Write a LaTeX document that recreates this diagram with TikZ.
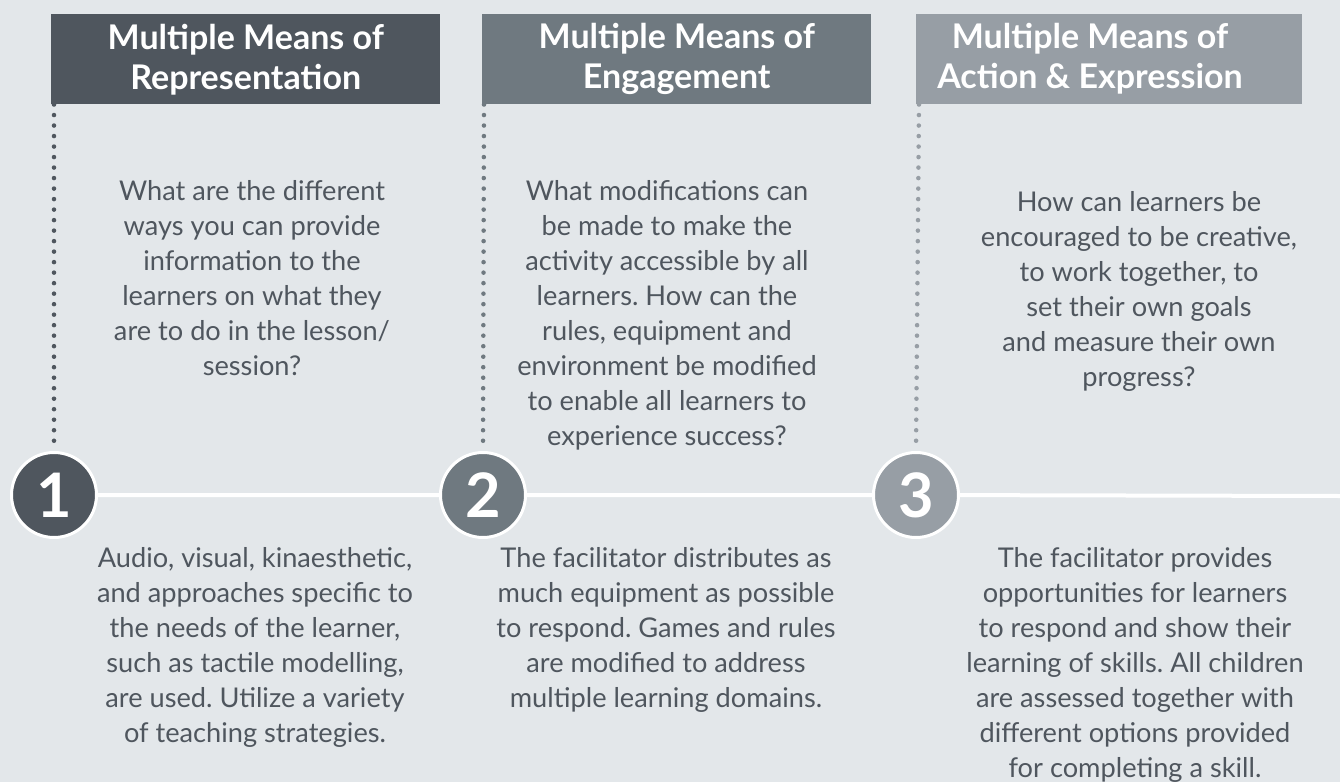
\documentclass[tikz,border=0pt]{standalone}
\usepackage{fontspec}
\setmainfont{Lato}
\usetikzlibrary{positioning}

\definecolor{bggray}{HTML}{E3E7EA}
\definecolor{stepA}{HTML}{4F565E}
\definecolor{stepB}{HTML}{6F7980}
\definecolor{stepC}{HTML}{979EA5}
\definecolor{bodygray}{HTML}{4F565E}

\frenchspacing

\begin{document}
\begin{tikzpicture}[x=0.75pt, y=-0.75pt,
    hbox/.style={fill=#1, minimum width=291.75pt, minimum height=67.5pt,
        inner sep=0pt, anchor=north west},
    htext/.style={text=white, font=\fontsize{25.5}{30}\selectfont\bfseries,
        align=center, inner sep=0pt},
    num/.style={circle, fill=#1, draw=white, line width=2.25pt,
        minimum size=63.75pt, inner sep=0pt, text=white,
        font=\fontsize{46}{46}\selectfont\bfseries},
    dots/.style={#1, line width=3.4pt, line cap=round,
        dash pattern=on 0pt off 7.88pt},
    body/.style={text=bodygray, font=\fontsize{20.4}{26.25}\selectfont,
        align=center, inner sep=0pt, anchor=north,
        execute at begin node=\strut}]

    % background, fixes the page size
    \useasboundingbox (0,0) rectangle (1340,782);
    \fill[bggray] (0,0) rectangle (1340,782);

    % headers
    \node[hbox=stepA] (hdrA) at (51,14) {};
    \node[hbox=stepB] (hdrB) at (482,14) {};
    \node[hbox=stepC, minimum width=289.5pt] (hdrC) at (916,14) {};

    \node[htext] at (hdrA.center) {Multiple Means of\\Representation};
    \node[htext] at (hdrB.center) {Multiple Means of\\Engagement};
    \node[htext] at (1090,59) {Multiple Means of\\Action \& Expression};

    % numbered steps on the timeline
    \node[num=stepA] (numA) at (54,495) {1};
    \node[num=stepB] (numB) at (483,495) {2};
    \node[num=stepC] (numC) at (916,495) {3};
    \coordinate (lineend) at (1340,496);

    \draw[white, line width=3pt] (numA) -- (numB) (numB) -- (numC) (numC) -- (lineend);

    % dotted drops from the headers
    \draw[dots=stepA] ([xshift=2.25pt]hdrA.south west) -- (numA.north);
    \draw[dots=stepB] ([xshift=1.5pt]hdrB.south west) -- (numB.north);
    \draw[dots=stepC] ([xshift=2.25pt]hdrC.south west) -- (numC.north);

    % questions
    \node[body] (qA) at (252,180) {What are the different\\ways you can provide\\information to the\\learners on what they\\are to do in the lesson/\\session?};
    \node[body] (qB) at (667,180) {What modifications can\\be made to make the\\activity accessible by all\\learners. How can the\\rules, equipment and\\environment be modified\\to enable all learners to\\experience success?};
    \node[body] (qC) at (1139,191) {How can learners be\\encouraged to be creative,\\to work together, to\\set their own goals\\and measure their own\\progress?};

    % answers
    \node[body] (aA) at (255,547) {Audio, visual, kinaesthetic,\\and approaches specific to\\the needs of the learner,\\such as tactile modelling,\\are used. Utilize a variety\\of teaching strategies.};
    \node[body] (aB) at (666,547) {The facilitator distributes as\\much equipment as possible\\to respond. Games and rules\\are modified to address\\multiple learning domains.};
    \node[body] (aC) at (1135,547) {The facilitator provides\\opportunities for learners\\to respond and show their\\learning of skills. All children\\are assessed together with\\different options provided\\for completing a skill.};
\end{tikzpicture}
\end{document}
